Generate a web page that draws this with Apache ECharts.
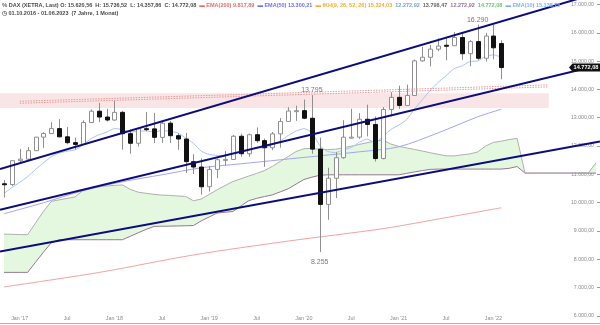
<!DOCTYPE html>
<html>
<head>
<meta charset="utf-8">
<script src="https://cdn.jsdelivr.net/npm/echarts@6/dist/echarts.min.js"></script>
<style>
html,body{margin:0;padding:0;background:#fff;}
#chart{width:600px;height:325px;}
</style>
</head>
<body>
<div id="chart"></div>
<script>
// Monthly periods shown on the time axis (history plus the projected cloud)
const months = [
  '2016-11','2016-12',
  '2017-01','2017-02','2017-03','2017-04','2017-05','2017-06','2017-07','2017-08','2017-09','2017-10','2017-11','2017-12',
  '2018-01','2018-02','2018-03','2018-04','2018-05','2018-06','2018-07','2018-08','2018-09','2018-10','2018-11','2018-12',
  '2019-01','2019-02','2019-03','2019-04','2019-05','2019-06','2019-07','2019-08','2019-09','2019-10','2019-11','2019-12',
  '2020-01','2020-02','2020-03','2020-04','2020-05','2020-06','2020-07','2020-08','2020-09','2020-10','2020-11','2020-12',
  '2021-01','2021-02','2021-03','2021-04','2021-05','2021-06','2021-07','2021-08','2021-09','2021-10','2021-11','2021-12',
  '2022-01','2022-02','2022-03','2022-04','2022-05','2022-06','2022-07','2022-08','2022-09','2022-10','2022-11','2022-12',
  '2023-01','2023-02'
];

// DAX monthly candles (Nov 2016 - Feb 2022)
const opens = [10665,10640,
  11481,11535,11834,12313,12438,12615,12325,12118,12056,12829,13230,13024,
  12918,13189,12436,12097,12612,12605,12306,12806,12364,12247,11447,11257,
  10559,11173,11516,11526,12344,11727,12399,12189,11939,12428,12867,13236,
  13249,12981,11890,9936,10862,11587,12311,12313,12945,12761,11556,13291,
  13719,13433,13786,15008,15136,15421,15560,15544,15835,15261,15689,15100,
  15885,15620.56];
const highs = [10800,11482,
  11893,11967,12313,12486,12841,12952,12676,12296,12904,13293,13526,13314,
  13597,13243,12583,12643,13205,13170,12886,12887,12460,12461,11710,11566,
  11299,11558,11823,12389,12436,12438,12656,12263,12494,12986,13374,13425,
  13640,13795,12297,11231,11781,12913,13314,13161,13460,13043,13377,13903,
  14132,14169,15058,15502,15569,15803,15810,16030,15992,15741,16290,16000,
  16285,15736.52];
const lows = [10175,10589,
  11385,11491,11828,11935,12428,12307,12058,11868,12054,12809,12845,12862,
  12887,11868,11727,11986,12518,12103,12104,12105,11865,11051,11010,10279,
  10387,10864,11299,11510,11620,11620,12110,11266,11854,11940,12866,12888,
  12948,11725,8255,9394,10160,11550,12253,12253,12340,11450,11530,13043,
  13310,13420,13774,14976,14816,15348,15029,15540,15045,14819,15024,14985,
  15063,14357.86];
const closes = [10640,11481,
  11535,11834,12313,12438,12615,12325,12118,12056,12829,13230,13024,12918,
  13189,12436,12097,12612,12605,12306,12806,12364,12247,11447,11257,10559,
  11173,11516,11526,12344,11727,12399,12189,11939,12428,12867,13236,13249,
  12981,11890,9936,10862,11587,12311,12313,12945,12761,11556,13291,13719,
  13433,13786,15008,15136,15421,15531,15544,15835,15261,15689,15100,15885,
  15471,14772.08];

// Moving averages
const ema10 = [10321,10532,
  10714,10918,11172,11402,11623,11751,11818,11861,12037,12254,12394,12489,
  12616,12583,12495,12516,12532,12491,12548,12515,12466,12281,12095,11816,
  11699,11666,11641,11769,11761,11877,11934,11935,12025,12178,12370,12530,
  12612,12481,12018,11808,11768,11867,11948,12129,12244,12119,12332,12584,
  12738,12929,13307,13640,13964,14249,14484,14730,14827,14984,15005,15165,
  15221,15138.75];
const ema50Months = ['2016-11','2017-04','2017-09','2018-02','2018-07','2018-12','2019-05','2019-10','2020-03','2020-08','2021-01','2021-06','2021-11','2022-02'];
const ema50Values = [9606,9994,10418,10735,10982,11230,11371,11512,11653,11794,11971,12465,13030,13300.21];
const ema200Months = ['2016-11','2017-11','2018-11','2019-11','2020-11','2021-07','2022-02'];
const ema200Values = [7020,7530,8150,8640,9080,9470,9817.89];

// Ichimoku cloud (leading spans, projected forward)
const spanA = [8886,8879,8872,8865,9281,9684,10044,10097,10149,10199,
  10428,10502,10559,10587,10608,10626,10467,10368,10329,10291,
  10266,10252,10234,10220,10065,10125,10291,10453,10601,10746,
  10841,10937,11032,11131,11279,11455,11628,11805,11904,11914,
  11879,11872,11886,11939,11995,12055,12115,12172,12211,12069,
  11988,11932,11879,11822,11762,11706,11653,11649,11685,11720,
  11787,11999,12126,12172,12228,12271,11042,11042,11042,11042,
  11042,11042,11042,11042,11042,11406];
const spanB = [7534,7534,7534,7534,7891,8247,8582,8688,8688,8688,
  8688,8688,8688,8688,8688,8688,8808,8935,9052,9158,
  9165,9168,9175,9182,9189,9355,9493,9631,9659,9687,
  9878,10068,10149,10213,10273,10379,10488,10654,10817,10898,
  10965,10982,10982,10982,10982,10982,10982,10982,10982,10982,
  10982,11032,11085,11131,11173,11184,11184,11184,11184,11184,
  11184,11184,11184,11184,11212,11275,11042,11042,11042,11042,
  11042,11042,11042,11042,11042,11042];

// Trend channel: level at the first and the last period
const channelUpper = [11226, 17388];
const channelMiddle = [9782, 14826];
const channelLower = [8300, 12133];

// Resistance zone and dotted resistance line
const zoneMonths = ['2016-11', '2022-08'];
const zoneLevels = [13860, 13340];
const dottedMonths = ['2017-01', '2022-08'];
const dottedLevels = [13580, 14160];

// Annotated extremes
const highLabelMonths = ['2020-02', '2021-11'];
const lowLabelMonths = ['2020-03'];

// Header entries
const header = {
  symbol: 'DAX (XETRA, Last)',
  range: '01.10.2016 - 01.06.2023  (7 Jahre, 1 Monat)',
  ikh: [15324.03, 12272.92, 13798.47, 12272.92, 14772.08]
};

const FONT = 'Arial, "Liberation Sans", Helvetica, sans-serif';

function de(v, d) {
  const s = Math.abs(v).toFixed(d);
  const parts = s.split('.');
  const ip = parts[0].replace(/\B(?=(\d{3})+(?!\d))/g, '.');
  return (v < 0 ? '-' : '') + ip + (parts[1] ? ',' + parts[1] : '');
}

const n = months.length;
const last = closes.length - 1;
const idx = m => months.indexOf(m);

function sparse(ms, vs) {
  const arr = new Array(n).fill(null);
  ms.forEach((m, k) => { arr[idx(m)] = vs[k]; });
  return arr;
}

const candleData = opens.map((o, i) => [i, o, closes[i], lows[i], highs[i]]);

function renderCandle(params, api) {
  const i = api.value(0), o = api.value(1), c = api.value(2), l = api.value(3), h = api.value(4);
  const pH = api.coord([i, h]), pL = api.coord([i, l]);
  const pO = api.coord([i, o]), pC = api.coord([i, c]);
  const xc = Math.round(pH[0]);
  const up = c >= o;
  const top = Math.min(pO[1], pC[1]), bot = Math.max(pO[1], pC[1]);
  return {
    type: 'group',
    children: [
      { type: 'line', shape: { x1: xc + 0.5, y1: pH[1], x2: xc + 0.5, y2: pL[1] },
        style: { stroke: '#8f8f8f', lineWidth: 1 } },
      { type: 'rect', shape: { x: xc - 1.5, y: top, width: 4, height: Math.max(bot - top, 1) },
        style: up ? { fill: '#ffffff', stroke: '#8f8f8f', lineWidth: 1 }
                  : { fill: '#111111', stroke: '#111111', lineWidth: 1 } }
    ]
  };
}

function renderTrend(params, api) {
  const p1 = api.coord([api.value(0), api.value(1)]);
  const p2 = api.coord([api.value(2), api.value(3)]);
  const cs = params.coordSys;
  const k = (p2[1] - p1[1]) / (p2[0] - p1[0]);
  const xa = cs.x, xb = cs.x + cs.width;
  return {
    type: 'line',
    shape: { x1: xa, y1: p1[1] + k * (xa - p1[0]), x2: xb, y2: p1[1] + k * (xb - p1[0]) },
    style: { stroke: '#0c0c7c', lineWidth: 2 }
  };
}

function renderZone(params, api) {
  const a = api.coord([api.value(0), api.value(2)]);
  const b = api.coord([api.value(1), api.value(3)]);
  const half = api.size([1, 0])[0] / 2;
  return {
    type: 'rect',
    shape: { x: a[0] - half, y: a[1], width: b[0] - a[0] + half, height: b[1] - a[1] },
    style: { fill: 'rgba(232,160,160,0.27)' }
  };
}

function renderTag(params, api) {
  const p = api.coord([api.value(0), api.value(1)]);
  const cs = params.coordSys;
  const r = Math.min(cs.x + cs.width, 600);
  const y = p[1];
  const l = r - 31;
  return {
    type: 'group',
    children: [
      { type: 'polygon', shape: { points: [[l, y], [l + 3.5, y - 4], [r, y - 4], [r, y + 4], [l + 3.5, y + 4]] },
        style: { fill: '#111' } },
      { type: 'text', x: (l + 3 + r) / 2, y: y,
        style: { text: de(api.value(1), 2), fill: '#fff', font: 'bold 5.6px ' + FONT, textAlign: 'center', textVerticalAlign: 'middle' } }
    ]
  };
}

const chart = echarts.init(document.getElementById('chart'));

const headerLine1 =
  '{ico|%} {t|' + header.symbol + ' O: ' + de(opens[last], 2) + '  H: ' + de(highs[last], 2) +
  '  L: ' + de(lows[last], 2) + '  C: ' + de(closes[last], 2) + '}  ' +
  '{mr|▬} {r|EMA(200) ' + de(ema200Values[ema200Values.length - 1], 2) + '}  ' +
  '{mb|▬} {b|EMA(50) ' + de(ema50Values[ema50Values.length - 1], 2) + '}  ' +
  '{mo|▬} {o|IKH(9, 26, 52, 26) ' + de(header.ikh[0], 2) + '}  {k|' + de(header.ikh[1], 2) +
  '}  {g|' + de(header.ikh[2], 2) + '}  {p|' + de(header.ikh[3], 2) + '}  {gr|' + de(header.ikh[4], 2) + '}  ' +
  '{ml|▬} {l|EMA(10) ' + de(ema10[last], 2) + '}';

const fs = 5.5;
const lh = 7;
const rich = {
  ico: { fontSize: 6, color: '#666', fontFamily: FONT, lineHeight: lh },
  t: { fontSize: fs, color: '#4a4a4a', fontFamily: FONT, lineHeight: lh },
  mr: { fontSize: fs, color: '#e56b6b', lineHeight: lh }, r: { fontSize: fs, color: '#e56b6b', fontFamily: FONT, lineHeight: lh },
  mb: { fontSize: fs, color: '#6f6ff0', lineHeight: lh }, b: { fontSize: fs, color: '#6f6ff0', fontFamily: FONT, lineHeight: lh },
  mo: { fontSize: fs, color: '#f0b03c', lineHeight: lh }, o: { fontSize: fs, color: '#eeae3a', fontFamily: FONT, lineHeight: lh },
  k: { fontSize: fs, color: '#7aa2c8', fontFamily: FONT, lineHeight: lh },
  g: { fontSize: fs, color: '#666', fontFamily: FONT, lineHeight: lh },
  p: { fontSize: fs, color: '#9a6f9a', fontFamily: FONT, lineHeight: lh },
  gr: { fontSize: fs, color: '#6cbf6c', fontFamily: FONT, lineHeight: lh },
  ml: { fontSize: fs, color: '#7fb0f0', lineHeight: lh }, l: { fontSize: fs, color: '#7fb0f0', fontFamily: FONT, lineHeight: lh }
};

const option = {
  animation: false,
  backgroundColor: '#ffffff',
  title: [
    { text: headerLine1, left: 2, top: 1.5, padding: 0, textStyle: { rich: rich, fontSize: fs, lineHeight: lh } },
    { text: '{c|◷} {t|' + header.range + '}', left: 2, top: 9.5, padding: 0,
      textStyle: { lineHeight: lh, fontSize: fs,
        rich: { c: { fontSize: 6, color: '#666', lineHeight: lh }, t: { fontSize: fs, color: '#4a4a4a', fontFamily: FONT, lineHeight: lh } } } }
  ],
  grid: { left: -0.8, right: -1.2, top: 4.5, bottom: 9.2 },
  xAxis: {
    type: 'category',
    data: months,
    boundaryGap: true,
    offset: 7,
    axisLine: { lineStyle: { color: '#b4b4b4', width: 1 } },
    axisTick: {
      alignWithLabel: true, length: 3, lineStyle: { color: '#b4b4b4' },
      interval: (i, v) => i <= last && (v.slice(5) === '01' || v.slice(5) === '07')
    },
    axisLabel: {
      inside: true, margin: 2, fontSize: 5.4, color: '#8a8a8a', fontFamily: FONT,
      interval: (i, v) => i <= last && (v.slice(5) === '01' || v.slice(5) === '07'),
      formatter: v => v.slice(5) === '01' ? "Jan '" + v.slice(2, 4) : 'Jul'
    },
    splitLine: { show: false }
  },
  yAxis: {
    type: 'value',
    position: 'right',
    min: 6000, max: 17000, interval: 1000,
    axisLine: { show: false },
    axisTick: { show: true, inside: true, length: 3, lineStyle: { color: '#9a9a9a' } },
    axisLabel: { inside: true, margin: 6, fontSize: 5.2, color: '#8a8a8a', fontFamily: FONT,
      formatter: v => de(v, 2) },
    splitLine: { show: false }
  },
  series: [
    { type: 'custom', name: 'zone', z: 1, renderItem: renderZone, silent: true,
      data: [[idx(zoneMonths[0]), idx(zoneMonths[1]), zoneLevels[0], zoneLevels[1]]] },
    { type: 'line', name: 'spanB', stack: 'cloud', z: 2, symbol: 'none', silent: true,
      data: spanB, lineStyle: { color: '#957895', width: 1 } },
    { type: 'line', name: 'spanA', stack: 'cloud', z: 2, symbol: 'none', silent: true,
      data: spanA.map((v, i) => v - spanB[i]),
      lineStyle: { color: '#b0b0b0', width: 1 },
      areaStyle: { color: '#e3f8df', opacity: 1 } },
    { type: 'line', name: 'EMA(200)', z: 3, symbol: 'none', connectNulls: true, smooth: 0.3,
      data: sparse(ema200Months, ema200Values), lineStyle: { color: '#f3a3a3', width: 1 } },
    { type: 'line', name: 'EMA(50)', z: 3, symbol: 'none', connectNulls: true, smooth: 0.3,
      data: sparse(ema50Months, ema50Values), lineStyle: { color: '#a3a3f5', width: 1 } },
    { type: 'line', name: 'EMA(10)', z: 3, symbol: 'none', smooth: 0.2,
      data: ema10, lineStyle: { color: '#a8c6f2', width: 1 } },
    { type: 'custom', name: 'DAX', z: 4, renderItem: renderCandle, data: candleData,
      encode: { x: 0, y: [1, 2, 3, 4] } },
    { type: 'line', name: 'dotted1', z: 5, symbol: 'none', connectNulls: true, silent: true,
      data: sparse(dottedMonths, dottedLevels),
      lineStyle: { color: '#e99a9a', width: 1, type: [1.5, 1.2] } },
    { type: 'line', name: 'dotted2', z: 5, symbol: 'none', connectNulls: true, silent: true,
      data: sparse(dottedMonths, dottedLevels.map(v => v - 70)),
      lineStyle: { color: '#e99a9a', width: 1, type: [1.5, 1.2] } },
    { type: 'custom', name: 'channel', z: 6, renderItem: renderTrend, silent: true,
      data: [
        [0, channelUpper[0], n - 1, channelUpper[1]],
        [0, channelMiddle[0], n - 1, channelMiddle[1]],
        [0, channelLower[0], n - 1, channelLower[1]]
      ] },
    { type: 'scatter', name: 'highs', z: 7, symbolSize: 0, silent: true,
      data: highLabelMonths.map(m => [idx(m), highs[idx(m)]]),
      label: { show: true, position: 'top', distance: 1.5, fontSize: 7, color: '#555', fontFamily: FONT,
        formatter: p => de(p.value[1], 0) } },
    { type: 'scatter', name: 'lows', z: 7, symbolSize: 0, silent: true,
      data: lowLabelMonths.map(m => [idx(m), lows[idx(m)]]),
      label: { show: true, position: 'bottom', distance: 7, fontSize: 7, color: '#555', fontFamily: FONT,
        formatter: p => de(p.value[1], 0) } },
    { type: 'custom', name: 'lastPrice', z: 8, renderItem: renderTag, silent: true,
      data: [[last, closes[last]]] }
  ]
};

chart.setOption(option);
</script>
</body>
</html>
